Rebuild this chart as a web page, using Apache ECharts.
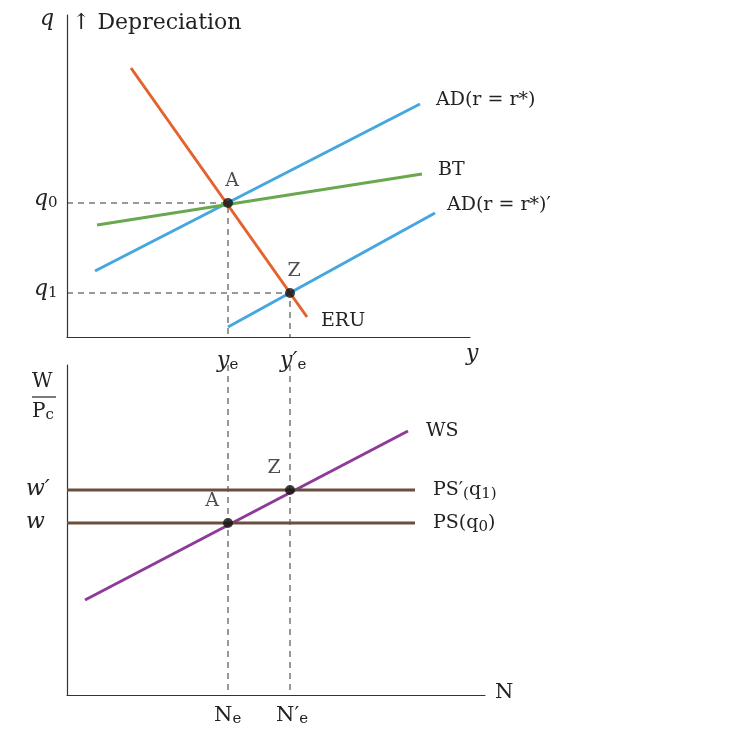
<!DOCTYPE html>
<html><head><meta charset="utf-8">
<script src="https://cdn.jsdelivr.net/npm/echarts@6/dist/echarts.min.js"></script>
<style>html,body{margin:0;background:#fff}#c{width:748px;height:752px}</style>
</head><body><div id="c"></div>
<script>
// top panel (x: output y, y: depreciation q)
const eru = [[64, 269], [240, 20]];
const adHigh = [[28, 66], [353, 233]];
const bt = [[30, 112], [355, 163]];
const adLow = [[161, 10], [368, 124]];
const topPoints = [[161, 134, 'A'], [223, 44, 'Z']];
// bottom panel (x: employment N, y: real wage)
const ws = [[18, 95], [341, 264]];
const psQ0 = [[0, 172], [348, 172]];
const psQ1 = [[0, 205], [348, 205]];
const botPoints = [[161, 172, 'A'], [223, 205, 'Z']];

const FONT = 'DejaVu Serif';
const chart = echarts.init(document.getElementById('c'));
const rich = { s: { fontSize: 15, fontFamily: FONT, verticalAlign: 'bottom', padding: [8, 0, 0, 0] } };
const txt = (x, y, t, extra) => ({ type: 'text', x, y, style: Object.assign({ text: t, font: '22px ' + FONT, fill: '#222', rich }, extra || {}) });

function line(xi, yi, data, color, name, lbl) {
  return {
    type: 'line', xAxisIndex: xi, yAxisIndex: yi, data, symbol: 'none', silent: true,
    lineStyle: { color, width: 3 },
    endLabel: lbl ? { show: true, formatter: name, color: '#222', fontFamily: FONT, fontSize: 19, offset: lbl, rich } : { show: false }
  };
}
function dash(xi, yi, data) {
  return { type: 'line', xAxisIndex: xi, yAxisIndex: yi, data, symbol: 'none', silent: true,
    lineStyle: { color: '#333', width: 1, type: [6, 5] } };
}
function pts(xi, yi, data, off) {
  return { type: 'scatter', xAxisIndex: xi, yAxisIndex: yi, data, symbolSize: 10, silent: true,
    itemStyle: { color: '#111' }, z: 10,
    label: { show: true, formatter: p => p.data[2], position: 'top', offset: off, color: '#222', fontFamily: FONT, fontSize: 19 } };
}
const ax = (max) => ({ type: 'value', min: 0, max, splitLine: { show: false }, axisTick: { show: false },
  axisLabel: { show: false }, axisLine: { show: true, onZero: false, lineStyle: { color: '#333', width: 1.2 } } });

chart.setOption({
  animation: false,
  grid: [{ left: 67, top: 15, width: 403, height: 322 }, { left: 67, top: 365, width: 418, height: 330 }],
  xAxis: [Object.assign(ax(403), { gridIndex: 0 }), Object.assign(ax(418), { gridIndex: 1 })],
  yAxis: [Object.assign(ax(322), { gridIndex: 0 }), Object.assign(ax(330), { gridIndex: 1 })],
  series: [
    dash(0, 0, [[0, 134], [161, 134], [161, 0]]),
    dash(0, 0, [[0, 44], [223, 44], [223, 0]]),
    dash(1, 1, [[161, 330], [161, 0]]),
    dash(1, 1, [[223, 330], [223, 0]]),
    line(0, 0, adHigh, '#45a6e0', 'AD(r = r*)', [8, -4]),
    line(0, 0, bt, '#6aa84f', 'BT', [8, -4]),
    line(0, 0, adLow, '#45a6e0', "AD(r = r*)′", [4, -8]),
    line(0, 0, eru, '#e5622e', 'ERU', [6, 4]),
    pts(0, 0, topPoints, [4, -2]),
    line(1, 1, ws, '#8e3a99', 'WS', [10, 0]),
    line(1, 1, psQ1, '#6b4e3d', "PS′{s|(}q{s|1}{s|)}", [10, 0]),
    line(1, 1, psQ0, '#6b4e3d', 'PS(q{s|0})', [10, 0]),
    pts(1, 1, botPoints, [-16, -2])
  ],
  graphic: [
    txt(40, 8, 'q', { font: 'italic 22px ' + FONT }),
    txt(72, 12, '↑ Depreciation', { font: '22px ' + FONT }),
    txt(34, 188, 'q{s|0}', { font: 'italic 22px ' + FONT }),
    txt(34, 278, 'q{s|1}', { font: 'italic 22px ' + FONT }),
    txt(466, 343, 'y', { font: 'italic 22px ' + FONT }),
    txt(217, 350, 'y{s|e}', { font: 'italic 22px ' + FONT }),
    txt(280, 350, 'y′{s|e}', { font: 'italic 22px ' + FONT }),
    txt(32, 372, 'W', { font: '20px ' + FONT }),
    { type: 'line', shape: { x1: 32, y1: 397, x2: 56, y2: 397 }, style: { stroke: '#222', lineWidth: 1.2 } },
    txt(32, 400, 'P{s|c}', { font: '20px ' + FONT }),
    txt(26, 478, 'w′', { font: 'italic 22px ' + FONT }),
    txt(26, 511, 'w', { font: 'italic 22px ' + FONT }),
    txt(495, 682, 'N', { font: '21px ' + FONT }),
    txt(214, 704, 'N{s|e}', { font: '21px ' + FONT }),
    txt(276, 704, 'N′{s|e}', { font: '21px ' + FONT })
  ]
});
</script></body></html>
